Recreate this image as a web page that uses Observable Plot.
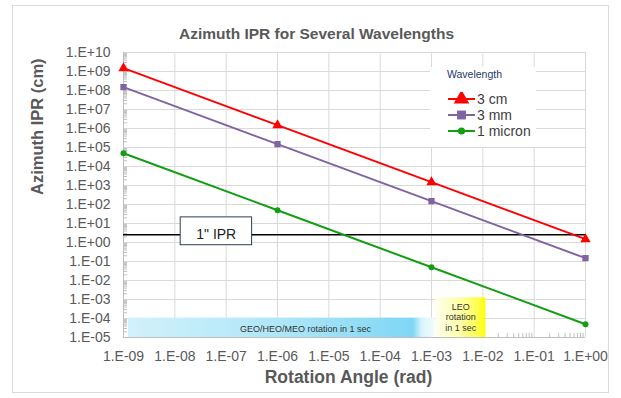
<!DOCTYPE html>
<html>
<head>
<meta charset="utf-8">
<script src="https://cdn.jsdelivr.net/npm/d3@7"></script>
<script src="https://cdn.jsdelivr.net/npm/@observablehq/plot@0.6"></script>
<style>
  body { margin: 0; background: #fff; font-family: "Liberation Sans", Arial, sans-serif; }
  #wrap { position: relative; width: 621px; height: 398px; }
  #border { position: absolute; left: 12px; top: 5px; width: 595px; height: 386px; border: 1px solid #d9d9d9; pointer-events: none; }
  #legend { position: absolute; left: 430px; top: 67px; width: 106px; height: 80px; background: #fff; }
  #legend .title { position: absolute; left: 17px; top: 1px; font-size: 10.5px; color: #1f3864; }
  #legend .row { position: absolute; left: 18px; height: 16px; display: flex; align-items: center; font-size: 14px; color: #404040; }
  #legend svg { margin-right: 2px; }
</style>
</head>
<body>
<div id="wrap">
  <div id="chart"></div>
  <div id="legend"></div>
  <div id="border"></div>
</div>
<script>
// ---- data ----
const angles = [1e-9, 1e-6, 1e-3, 1];
const seriesNames = ["3 cm", "3 mm", "1 micron"];
const ipr3cm = [1.5e9, 1.5e6, 1.5e3, 1.5];
const ipr3mm = [1.5e8, 1.5e5, 1.5e2, 0.15];
const ipr1micron = [5e4, 50, 0.05, 5e-5];
const seriesColors = ["#ff0000", "#8064a2", "#119e11"];
const seriesSymbols = ["triangle", "square", "circle"];
const seriesRadius = [6.5, 5.6, 4];
const xTicks = [1e-9, 1e-8, 1e-7, 1e-6, 1e-5, 1e-4, 1e-3, 1e-2, 1e-1, 1];
const yTicks = [1e-5, 1e-4, 1e-3, 1e-2, 1e-1, 1, 1e1, 1e2, 1e3, 1e4, 1e5, 1e6, 1e7, 1e8, 1e9, 1e10];
const oneInchIPR = 2.54;
const oneInchLabel = "1\" IPR";
const oneInchBox = {x1: 1.3e-8, x2: 3.2e-7, y1: 0.72, y2: 21, xc: 6.4e-8};
const bandNames = ["GEO/HEO/MEO rotation in 1 sec", "LEO\nrotation\nin 1 sec"];
const bandX1 = [1.25e-9, 1.2e-3];
const bandX2 = [1.15e-3, 1.15e-2];
const bandY1 = [1e-5, 1e-5];
const bandY2 = [1.05e-4, 1.25e-3];
const bandLabelX = [3.5e-6, 3.7e-3];
const bandLabelY = [3.0e-5, 1.2e-4];
const bandFills = ["url(#geoGrad)", "url(#leoGrad)"];

const seriesValues = [ipr3cm, ipr3mm, ipr1micron];
const points = seriesNames.flatMap((s, i) => angles.map((a, j) => ({series: s, x: a, y: seriesValues[i][j], r: seriesRadius[i]})));
const bands = bandNames.map((n, i) => ({name: n, x1: bandX1[i], x2: bandX2[i], y1: bandY1[i], y2: bandY2[i], lx: bandLabelX[i], ly: bandLabelY[i], fill: bandFills[i]}));

const fmt = d => { const e = Math.round(Math.log10(d)); return "1.E" + (e < 0 ? "-" : "+") + String(Math.abs(e)).padStart(2, "0"); };
const minorX = xTicks.slice(0, -1).flatMap(t => d3.range(2, 10).map(k => k * t));
const minorY = yTicks.slice(0, -1).flatMap(t => d3.range(2, 10).map(k => k * t));

const defs = () => {
  const g = d3.create("svg:defs");
  const a = g.append("linearGradient").attr("id", "geoGrad");
  [[0, "#d2f1fb"], [0.5, "#aee6f8"], [0.93, "#7fd7f5"], [0.96, "#d9f4fc"], [1, "#f0fbfe"]].forEach(([o, c]) => a.append("stop").attr("offset", o).attr("stop-color", c));
  const b = g.append("linearGradient").attr("id", "leoGrad");
  [[0, "#fffff0"], [0.5, "#ffffa8"], [0.85, "#ffff50"], [1, "#ffff00"]].forEach(([o, c]) => b.append("stop").attr("offset", o).attr("stop-color", c));
  return g.node();
};

const plot = Plot.plot({
  width: 621,
  height: 398,
  marginLeft: 123,
  marginRight: 36,
  marginTop: 52,
  marginBottom: 61,
  style: {fontFamily: "Liberation Sans, Arial, sans-serif", fontSize: "14px", color: "#595959", background: "transparent"},
  x: {type: "log", domain: [1e-9, 1]},
  y: {type: "log", domain: [1e-5, 1e10]},
  color: {domain: seriesNames, range: seriesColors},
  symbol: {domain: seriesNames, range: seriesSymbols},
  marks: [
    defs,
    Plot.gridX(xTicks, {stroke: "#d9d9d9", strokeOpacity: 1}),
    Plot.gridY(yTicks, {stroke: "#d9d9d9", strokeOpacity: 1}),
    Plot.axisX(minorX, {anchor: "bottom", tickSize: -4, text: null, stroke: "#bfbfbf", strokeOpacity: 1}),
    Plot.axisY(minorY, {anchor: "left", tickSize: -4, text: null, stroke: "#bfbfbf", strokeOpacity: 1}),
    Plot.axisX(xTicks, {anchor: "bottom", tickSize: 0, tickPadding: 14, tickFormat: fmt, label: null, fill: "#595959", fontSize: 14}),
    Plot.axisY(yTicks, {anchor: "left", tickSize: 0, tickPadding: 13, tickFormat: fmt, label: null, fill: "#595959", fontSize: 14}),
    Plot.ruleX([1e-9], {stroke: "#bfbfbf"}),
    Plot.ruleY([1e-5], {stroke: "#bfbfbf"}),
    Plot.rect(bands, {x1: "x1", x2: "x2", y1: "y1", y2: "y2", fill: "fill"}),
    Plot.text(bands, {x: "lx", y: "ly", text: "name", fontSize: 9, fill: "#333", lineHeight: 1.2}),
    Plot.ruleY([oneInchIPR], {stroke: "#000", strokeWidth: 1.5}),
    Plot.rect([oneInchBox], {x1: "x1", x2: "x2", y1: "y1", y2: "y2", fill: "#fff", stroke: "#2f3b5c", strokeWidth: 1}),
    Plot.text([oneInchBox], {x: "xc", y: () => oneInchIPR, text: () => oneInchLabel, fontSize: 14, fill: "#222"}),
    Plot.line(points, {x: "x", y: "y", z: "series", stroke: "series", strokeWidth: 2}),
    Plot.dot(points, {x: "x", y: "y", symbol: "series", fill: "series", stroke: null, r: "r"}),
    Plot.text(["Azimuth IPR for Several Wavelengths"], {frameAnchor: "top", dx: -38, dy: -25, fontSize: 15.5, fontWeight: "bold", fill: "#595959"}),
    Plot.text(["Azimuth IPR (cm)"], {frameAnchor: "left", dx: -86, rotate: -90, fontSize: 16.5, fontWeight: "bold", fill: "#595959"}),
    Plot.text(["Rotation Angle (rad)"], {frameAnchor: "bottom", dx: -6, dy: 45, fontSize: 17.5, fontWeight: "bold", fill: "#595959"})
  ]
});
document.getElementById("chart").append(plot);

// legend
const legend = document.getElementById("legend");
const t = document.createElement("div");
t.className = "title";
t.textContent = "Wavelength";
legend.append(t);
seriesNames.forEach((name, i) => {
  const row = document.createElement("div");
  row.className = "row";
  row.style.top = (24 + i * 16) + "px";
  const sw = d3.create("svg").attr("width", 27).attr("height", 14);
  sw.append("line").attr("x1", 0).attr("x2", 27).attr("y1", 7).attr("y2", 7).attr("stroke", seriesColors[i]).attr("stroke-width", 2);
  const sym = seriesSymbols[i] === "triangle" ? d3.symbolTriangle : seriesSymbols[i] === "square" ? d3.symbolSquare : d3.symbolCircle;
  sw.append("path").attr("transform", "translate(13.5,7)").attr("d", d3.symbol(sym, Math.PI * seriesRadius[i] * seriesRadius[i] * 0.8)()).attr("fill", seriesColors[i]);
  row.append(sw.node());
  const s = document.createElement("span");
  s.textContent = name;
  row.append(s);
  legend.append(row);
});
</script>
</body>
</html>
